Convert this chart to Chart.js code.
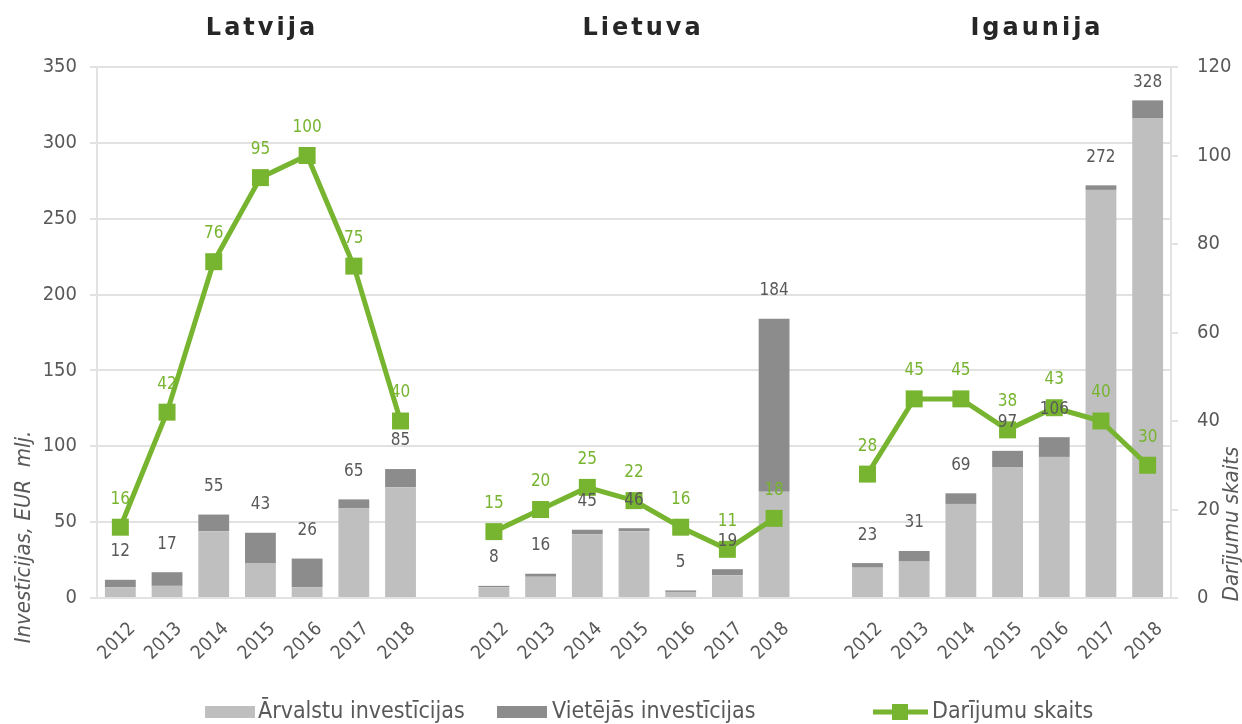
<!DOCTYPE html>
<html>
<head>
<meta charset="utf-8">
<script src="https://cdn.jsdelivr.net/npm/chart.js@4.4.1/dist/chart.umd.min.js"></script>
<style>
  html, body { margin: 0; padding: 0; background: #fff; }
  #wrap { position: relative; width: 1242px; height: 724px; }
</style>
</head>
<body>
<div id="wrap"><canvas id="chart" width="1242" height="724"></canvas></div>
<script>
// Data (EUR milj. and number of deals), years 2012..2018 per country
const years = ['2012', '2013', '2014', '2015', '2016', '2017', '2018'];
const countries = ['Latvija', 'Lietuva', 'Igaunija'];

const foreignLV = [7, 8, 44, 23, 7, 59, 73];
const localLV   = [5, 9, 11, 20, 19, 6, 12];
const dealsLV   = [16, 42, 76, 95, 100, 75, 40];

const foreignLT = [7, 14, 42, 44, 4, 15, 70];
const localLT   = [1, 2, 3, 2, 1, 4, 114];
const dealsLT   = [15, 20, 25, 22, 16, 11, 18];

const foreignEE = [20, 24, 62, 86, 93, 269, 316];
const localEE   = [3, 7, 7, 11, 13, 3, 12];
const dealsEE   = [28, 45, 45, 38, 43, 40, 30];

const leftTicks = [0, 50, 100, 150, 200, 250, 300, 350];
const rightTicks = [0, 20, 40, 60, 80, 100, 120];

// one empty slot between the country groups
const join = (a, b, c, gap) => [...a, gap, ...b, gap, ...c];
const labels = join(years, years, years, '');
const foreign = join(foreignLV, foreignLT, foreignEE, null);
const local = join(localLV, localLT, localEE, null);
const deals = join(dealsLV, dealsLT, dealsEE, null);

const FONT = "'DejaVu Sans Condensed', 'DejaVu Sans', sans-serif";
const GREEN = '#77b42f';
const LIGHT = '#bfbfbf';
const DARK = '#8c8c8c';
const TEXT = '#595959';
const GRID = '#e2e2e2';

const extras = {
  id: 'extras',
  afterDatasetsDraw(chart) {
    const ctx = chart.ctx;
    const top = chart.chartArea.top;
    const barMeta = chart.getDatasetMeta(1);
    const lineMeta = chart.getDatasetMeta(2);
    ctx.save();
    ctx.textAlign = 'center';
    ctx.textBaseline = 'middle';
    ctx.font = '17px ' + FONT;
    ctx.fillStyle = TEXT;
    barMeta.data.forEach((bar, i) => {
      if (foreign[i] == null) return;
      const total = foreign[i] + local[i];
      const y = Math.max(bar.y - 28, top + 16);
      ctx.fillText(String(total), bar.x, y);
    });
    ctx.fillStyle = GREEN;
    lineMeta.data.forEach((pt, i) => {
      if (deals[i] == null) return;
      ctx.fillText(String(deals[i]), pt.x, pt.y - 28);
    });
    ctx.restore();
  },
  afterDraw(chart) {
    const ctx = chart.ctx;
    ctx.save();
    // group titles
    ctx.fillStyle = '#262626';
    ctx.font = "bold 24px 'DejaVu Sans', sans-serif";
    ctx.textAlign = 'center';
    ctx.textBaseline = 'middle';
    ctx.letterSpacing = '3px';
    const titleX = [262, 643, 1037];
    countries.forEach((c, k) => ctx.fillText(c, titleX[k], 29));
    ctx.letterSpacing = '0px';

    // axis titles
    ctx.fillStyle = TEXT;
    ctx.font = 'italic 22px ' + FONT;
    ctx.save();
    ctx.translate(24, 537);
    ctx.rotate(-Math.PI / 2);
    ctx.fillText('Investīcijas, EUR  mlj.', 0, 0);
    ctx.restore();
    ctx.save();
    ctx.translate(1232, 524);
    ctx.rotate(-Math.PI / 2);
    ctx.fillText('Darījumu skaits', 0, 0);
    ctx.restore();

    // legend
    const ly = 712;
    ctx.font = '23px ' + FONT;
    ctx.textAlign = 'left';
    ctx.fillStyle = LIGHT;
    ctx.fillRect(205, ly - 6, 50, 12);
    ctx.fillStyle = TEXT;
    ctx.fillText('Ārvalstu investīcijas', 258, ly);
    ctx.fillStyle = DARK;
    ctx.fillRect(497, ly - 6, 50, 12);
    ctx.fillStyle = TEXT;
    ctx.fillText('Vietējās investīcijas', 552, ly);
    ctx.strokeStyle = GREEN;
    ctx.lineWidth = 5;
    ctx.beginPath();
    ctx.moveTo(873, ly);
    ctx.lineTo(928, ly);
    ctx.stroke();
    ctx.fillStyle = GREEN;
    ctx.fillRect(892, ly - 8, 16, 16);
    ctx.fillStyle = TEXT;
    ctx.fillText('Darījumu skaits', 932, ly);
    ctx.restore();
  }
};

const ctx = document.getElementById('chart').getContext('2d');
const chart = new Chart(ctx, {
  data: {
    labels: labels,
    datasets: [
      {
        type: 'bar',
        label: 'Ārvalstu investīcijas',
        data: foreign,
        backgroundColor: LIGHT,
        yAxisID: 'y',
        stack: 'inv',
        order: 2,
        barPercentage: 0.66,
        categoryPercentage: 1
      },
      {
        type: 'bar',
        label: 'Vietējās investīcijas',
        data: local,
        backgroundColor: DARK,
        yAxisID: 'y',
        stack: 'inv',
        order: 2,
        barPercentage: 0.66,
        categoryPercentage: 1
      },
      {
        type: 'line',
        label: 'Darījumu skaits',
        data: deals,
        yAxisID: 'y1',
        borderColor: GREEN,
        backgroundColor: GREEN,
        borderWidth: 5,
        pointStyle: 'rect',
        pointRadius: 12,
        pointBorderWidth: 0,
        spanGaps: false,
        tension: 0,
        order: 0
      }
    ]
  },
  options: {
    responsive: false,
    animation: false,
    layout: { padding: { top: 67, left: 0, right: 0, bottom: 40 } },
    plugins: {
      legend: { display: false },
      tooltip: { enabled: false }
    },
    scales: {
      x: {
        stacked: true,
        grid: { display: false },
        border: { display: false },
        ticks: {
          autoSkip: false,
          minRotation: 45,
          maxRotation: 45,
          color: TEXT,
          font: { family: FONT, size: 19 },
          padding: 12,
          labelOffset: 12
        },
        afterFit(s) { s.height = 86; }
      },
      y: {
        stacked: true,
        position: 'left',
        min: 0,
        max: 350,
        afterBuildTicks(s) { s.ticks = leftTicks.map(v => ({ value: v })); },
        ticks: { color: TEXT, font: { family: FONT, size: 20 }, padding: 13 },
        grid: { color: GRID, lineWidth: 2, tickLength: 7 },
        border: { color: GRID, width: 2 },
        afterFit(s) { s.width = 97; }
      },
      y1: {
        position: 'right',
        min: 0,
        max: 120,
        afterBuildTicks(s) { s.ticks = rightTicks.map(v => ({ value: v })); },
        ticks: { color: TEXT, font: { family: FONT, size: 20 }, padding: 19 },
        grid: { drawOnChartArea: false, color: GRID, lineWidth: 2, tickLength: 7 },
        border: { color: GRID, width: 2 },
        afterFit(s) { s.width = 71; }
      }
    }
  },
  plugins: [extras]
});
</script>
</body>
</html>
